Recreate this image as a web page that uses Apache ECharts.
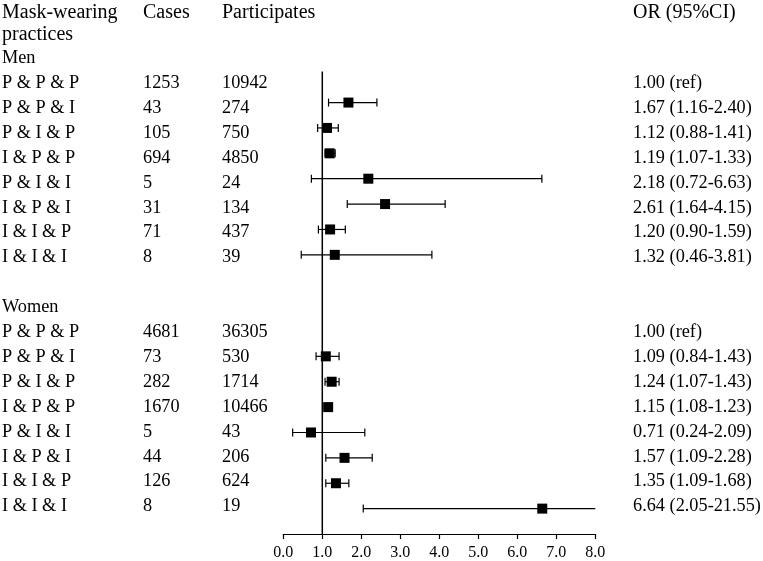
<!DOCTYPE html>
<html><head><meta charset="utf-8">
<script src="https://cdn.jsdelivr.net/npm/echarts@6/dist/echarts.min.js"></script>
<style>html,body{margin:0;padding:0;background:#fff}#c{width:763px;height:561px}</style>
</head><body><div id="c"></div>
<script>
// ---- data ----
const headerPractice = ['Mask-wearing', 'practices'];
const headerCases = 'Cases';
const headerParticipants = 'Participates';
const headerOR = 'OR (95%CI)';
const groups = ['Men', 'Women'];
const practices = ['P & P & P', 'P & P & I', 'P & I & P', 'I & P & P', 'P & I & I', 'I & P & I', 'I & I & P', 'I & I & I'];

const menCases = [1253, 43, 105, 694, 5, 31, 71, 8];
const menParticipants = [10942, 274, 750, 4850, 24, 134, 437, 39];
const menOR = [1.00, 1.67, 1.12, 1.19, 2.18, 2.61, 1.20, 1.32];
const menLow = [null, 1.16, 0.88, 1.07, 0.72, 1.64, 0.90, 0.46];
const menHigh = [null, 2.40, 1.41, 1.33, 6.63, 4.15, 1.59, 3.81];

const womenCases = [4681, 73, 282, 1670, 5, 44, 126, 8];
const womenParticipants = [36305, 530, 1714, 10466, 43, 206, 624, 19];
const womenOR = [1.00, 1.09, 1.24, 1.15, 0.71, 1.57, 1.35, 6.64];
const womenLow = [null, 0.84, 1.07, 1.08, 0.24, 1.09, 1.09, 2.05];
const womenHigh = [null, 1.43, 1.43, 1.23, 2.09, 2.28, 1.68, 21.55];

const xTickLabels = ['0.0', '1.0', '2.0', '3.0', '4.0', '5.0', '6.0', '7.0', '8.0'];
const refValue = 1.0;

// ---- layout / style ----
const FONT = "'Liberation Serif','Times New Roman',serif";
const FS = 18.3, FS_HEAD = 20;
const TEXT_TOP = 58.3, TEXT_STEP = 24.9;   // row pixel positions for table text
const COLS = [2, 143, 222, 633];
const XMIN = 0, XMAX = 8;

function fmt(v) { return v.toFixed(2); }

const sets = [
  {name: groups[0], cases: menCases, parts: menParticipants, or: menOR, lo: menLow, hi: menHigh, k0: 0},
  {name: groups[1], cases: womenCases, parts: womenParticipants, or: womenOR, lo: womenLow, hi: womenHigh, k0: 10}
];

const graphics = [];
function addText(x, y, t, fs) {
  graphics.push({type: 'text', x: x, y: y, silent: true,
    style: {text: t, font: fs + 'px ' + FONT, fill: '#000', align: 'left', verticalAlign: 'middle',
            textAlign: 'left', textVerticalAlign: 'middle'}});
}
addText(COLS[0], 13, headerPractice[0], FS_HEAD);
addText(COLS[0], 34.5, headerPractice[1], FS_HEAD);
addText(COLS[1], 13, headerCases, FS_HEAD);
addText(COLS[2], 13, headerParticipants, FS_HEAD);
addText(COLS[3], 13, headerOR, FS_HEAD);

const forest = [];
sets.forEach(s => {
  addText(COLS[0], TEXT_TOP + TEXT_STEP * s.k0, s.name, FS);
  practices.forEach((p, i) => {
    const k = s.k0 + 1 + i;
    const y = TEXT_TOP + TEXT_STEP * k;
    addText(COLS[0], y, p, FS);
    addText(COLS[1], y, String(s.cases[i]), FS);
    addText(COLS[2], y, String(s.parts[i]), FS);
    addText(COLS[3], y, s.lo[i] == null ? fmt(s.or[i]) + ' (ref)' : fmt(s.or[i]) + ' (' + fmt(s.lo[i]) + '-' + fmt(s.hi[i]) + ')', FS);
    if (s.lo[i] != null) forest.push([s.or[i], k, s.lo[i], s.hi[i]]);
  });
});

const chart = echarts.init(document.getElementById('c'), null, {renderer: 'canvas'});
chart.setOption({
  animation: false,
  backgroundColor: '#fff',
  grid: {left: 283.3, width: 312, top: 51.8, height: 483.7, containLabel: false},
  xAxis: {
    type: 'value', min: XMIN, max: XMAX, interval: 1, position: 'bottom',
    axisLine: {show: true, onZero: false, lineStyle: {color: '#000', width: 1.2}},
    axisTick: {show: true, length: 5, lineStyle: {color: '#000', width: 1.2}},
    splitLine: {show: false},
    axisLabel: {formatter: (v) => xTickLabels[Math.round(v)], color: '#000', fontFamily: 'Liberation Serif', fontSize: 16, margin: 11}
  },
  yAxis: {type: 'value', inverse: true, min: 0, max: 19, show: false},
  graphic: graphics,
  series: [
    {
      type: 'custom', silent: true,
      data: [[refValue, 0.78, 19]],
      renderItem: (params, api) => {
        const a = api.coord([api.value(0), api.value(1)]);
        const b = api.coord([api.value(0), api.value(2)]);
        return {type: 'line', shape: {x1: a[0], y1: a[1], x2: b[0], y2: b[1]}, style: {stroke: '#000', lineWidth: 1.5}};
      }
    },
    {
      type: 'custom', silent: true,
      data: forest,
      encode: {x: [0, 2, 3], y: 1},
      renderItem: (params, api) => {
        const or = api.value(0), k = api.value(1), lo = api.value(2), hi = api.value(3);
        const c = api.coord([or, k]);
        const l = api.coord([Math.max(lo, XMIN), k]);
        const h = api.coord([Math.min(hi, XMAX), k]);
        const st = {stroke: '#000', lineWidth: 1.2};
        const ch = [{type: 'line', shape: {x1: l[0], y1: l[1], x2: h[0], y2: h[1]}, style: st}];
        if (lo >= XMIN) ch.push({type: 'line', shape: {x1: l[0], y1: l[1] - 4, x2: l[0], y2: l[1] + 4}, style: st});
        if (hi <= XMAX) ch.push({type: 'line', shape: {x1: h[0], y1: h[1] - 4, x2: h[0], y2: h[1] + 4}, style: st});
        ch.push({type: 'rect', shape: {x: c[0] - 5, y: c[1] - 5, width: 10, height: 10}, style: {fill: '#000'}});
        return {type: 'group', children: ch};
      }
    }
  ]
});
</script>
</body></html>
